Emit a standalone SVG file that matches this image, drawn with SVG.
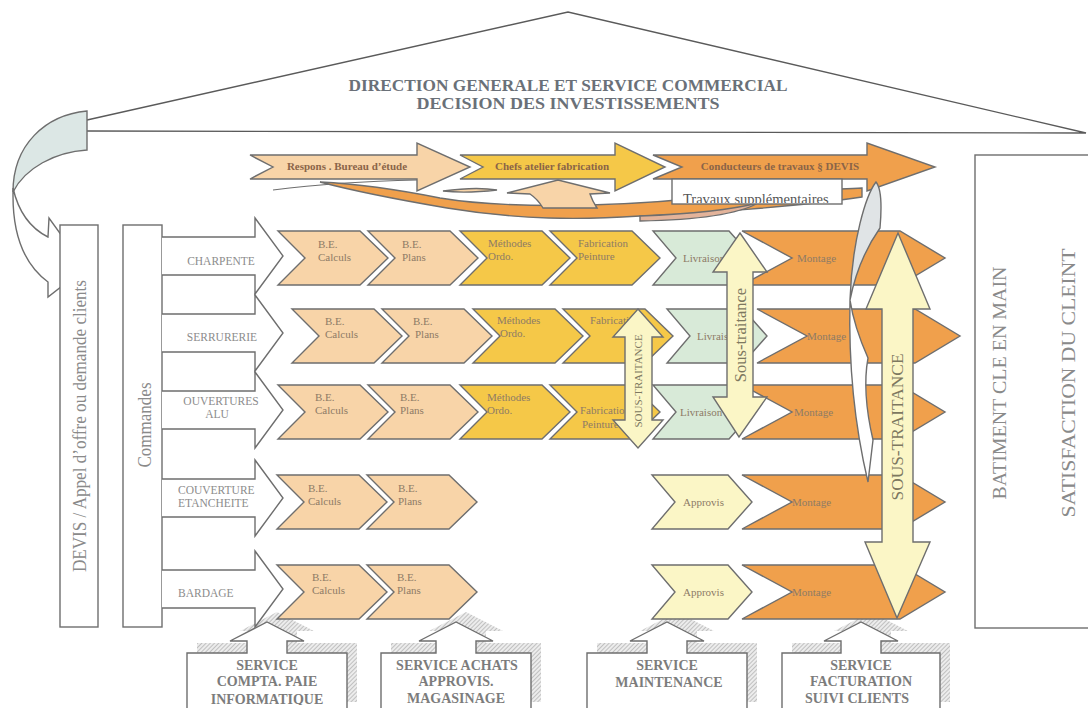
<svg xmlns="http://www.w3.org/2000/svg" width="1088" height="708" viewBox="0 0 1088 708">
<defs>
<pattern id="hatch" width="3" height="3" patternUnits="userSpaceOnUse" patternTransform="rotate(45)">
<rect width="3" height="3" fill="#ececec"/><line x1="0" y1="0" x2="0" y2="3" stroke="#a8a8a8" stroke-width="1.3"/>
</pattern>
<clipPath id="clipTrav"><rect x="672" y="179" width="170" height="24"/></clipPath>
<clipPath id="clipBottom"><rect x="0" y="0" width="1088" height="705"/></clipPath>
<style>
.st{stroke:#6e6e6e;stroke-width:1.4;stroke-linejoin:miter}
.wh{fill:#ffffff}
.peach{fill:#F8D4A8}
.gold{fill:#F5C848}
.green{fill:#D8EAD8}
.cream{fill:#FBF6C6}
.orange{fill:#F0A04C}
.t{font-family:"Liberation Serif","Times New Roman",serif}
.pt{font-size:11px;fill:#8d7b66}
.cat{font-size:11.5px;fill:#8c8c8c}
.svc{font-size:14px;font-weight:bold;fill:#7c7c7c;text-anchor:middle}
.big{font-size:18px;fill:#8a8a8a;text-anchor:middle}
.top{font-size:11px;font-weight:bold;fill:#8a6448;text-anchor:middle}
.sous{fill:#7d7860;text-anchor:middle}
</style>
</defs>
<rect width="1088" height="708" fill="#ffffff"/>

<g id="roof">
<path d="M87,120 L568,12 L1086,133 L87,131" fill="none" stroke="#5a5a5a" stroke-width="1.4"/>
<text class="t" x="568" y="91" font-size="17" font-weight="bold" fill="#6a7078" text-anchor="middle" textLength="439" lengthAdjust="spacingAndGlyphs">DIRECTION GENERALE ET SERVICE COMMERCIAL</text>
<text class="t" x="568" y="109" font-size="17" font-weight="bold" fill="#6a7078" text-anchor="middle" textLength="303" lengthAdjust="spacingAndGlyphs">DECISION DES INVESTISSEMENTS</text>
</g>

<g id="connectors">
<path d="M87,111 L87,150 C55,152 25,168 13,192 C13,145 45,115 87,111 Z" fill="#DCE7E5" class="st"/>
<path d="M13,188 C18,210 30,228 48,237 L49,218 L85,268 L48,297 L48,282 C25,265 13,235 13,196 Z" class="wh st"/>
<path d="M273,190 C320,184 370,181 417,180" fill="none" stroke="#6e6e6e" stroke-width="1.2"/>
<path d="M320,182 C360,184 400,190 440,198 C500,208 600,208 700,198 C760,192 820,190 862,188 L862,197 C800,206 700,214 640,216 C580,220 520,220 447,208 C400,200 350,190 320,182 Z" class="orange st" stroke-width="1"/>
<path d="M443,191 C465,188 485,188 497,190 C480,192 460,193 443,191 Z" class="peach st" stroke-width="1"/>
<path d="M640,216 C690,214 730,210 758,203 C740,213 700,220 640,221 Z" fill="#E3B39A" class="st" stroke-width="1"/>
<path d="M507,193 L558,180 L610,193 L590,194 C592,200 595,205 597,208 L543,208 C540,203 536,198 530,194 Z" class="peach st" stroke-width="1"/>
</g>

<g id="top-arrows">
<path d="M250,155 H417 V143 L470,167 L417,191 V179 H250 L273,167 Z" class="peach st"/>
<text class="t top" x="347" y="170">Respons . Bureau d’étude</text>
<path d="M460,155 H615 V143 L665,167 L615,191 V179 H460 L483,167 Z" class="gold st"/>
<text class="t top" x="552" y="170">Chefs atelier fabrication</text>
<path d="M653,155 H867 V143 L935,167 L867,191 V179 H653 L682,167 Z" class="orange st"/>
<text class="t top" x="780" y="170" fill="#8a4e24">Conducteurs de travaux § DEVIS</text>
</g>

<g id="travaux">
<rect x="672" y="179" width="170" height="25" class="wh st"/>
<text class="t" x="683" y="203.5" font-size="14.5" fill="#555555" clip-path="url(#clipTrav)">Travaux supplémentaires</text>
</g>

<g id="devis">
<rect x="60" y="225" width="38" height="402" class="wh st"/>
<text class="t big" transform="translate(86,426) rotate(-90)" font-size="18" textLength="292" lengthAdjust="spacingAndGlyphs">DEVIS / Appel d’offre ou demande clients</text>
</g>

<g id="commandes">
<rect x="123" y="225" width="39" height="402" class="wh st"/>
<text class="t big" transform="translate(151,425) rotate(-90)" font-size="18" textLength="85" lengthAdjust="spacingAndGlyphs">Commandes</text>
</g>

<g id="services">
<g id="svc-compta">
<path d="M187,712 V653 H247 V641 H230 L267,622 L304,641 H287 V653 H347 V712 Z" fill="url(#hatch)" transform="translate(10,-10)"/>
<path d="M187,712 V653 H247 V641 H230 L267,622 L304,641 H287 V653 H347 V712 Z" class="wh st"/>
<text class="t svc" x="267" y="670">SERVICE</text>
<text class="t svc" x="267" y="686">COMPTA. PAIE</text>
<text class="t svc" x="267" y="704" clip-path="url(#clipBottom)">INFORMATIQUE</text>
</g>
<g id="svc-achats">
<path d="M381,712 V653 H436 V641 H419 L456,622 L493,641 H476 V653 H531 V712 Z" fill="url(#hatch)" transform="translate(10,-10)"/>
<path d="M381,712 V653 H436 V641 H419 L456,622 L493,641 H476 V653 H531 V712 Z" class="wh st"/>
<text class="t svc" x="457" y="670">SERVICE ACHATS</text>
<text class="t svc" x="456" y="686">APPROVIS.</text>
<text class="t svc" x="456" y="703">MAGASINAGE</text>
</g>
<g id="svc-maintenance">
<path d="M587,712 V653 H647 V641 H630 L667,622 L704,641 H687 V653 H747 V712 Z" fill="url(#hatch)" transform="translate(10,-10)"/>
<path d="M587,712 V653 H647 V641 H630 L667,622 L704,641 H687 V653 H747 V712 Z" class="wh st"/>
<text class="t svc" x="667" y="670">SERVICE</text>
<text class="t svc" x="669" y="687">MAINTENANCE</text>
</g>
<g id="svc-facturation">
<path d="M782,712 V653 H841 V641 H824 L861,622 L898,641 H881 V653 H940 V712 Z" fill="url(#hatch)" transform="translate(10,-10)"/>
<path d="M782,712 V653 H841 V641 H824 L861,622 L898,641 H881 V653 H940 V712 Z" class="wh st"/>
<text class="t svc" x="861" y="670">SERVICE</text>
<text class="t svc" x="861" y="686">FACTURATION</text>
<text class="t svc" x="857" y="703">SUIVI CLIENTS</text>
</g>
</g>

<g id="categories">
<g id="cat-charpente"><path d="M162,237 H255 V218 L283,256 L255,294 V275 H162" class="wh st"/>
<text class="t cat" x="221" y="265" text-anchor="middle">CHARPENTE</text></g>
<g id="cat-serrurerie"><path d="M162,314 H255 V295 L283,333 L255,371 V352 H162" class="wh st"/>
<text class="t cat" x="222" y="341" text-anchor="middle">SERRURERIE</text></g>
<g id="cat-ouvertures"><path d="M162,391 H255 V372 L283,410 L255,448 V429 H162" class="wh st"/>
<text class="t cat" x="221" y="405" text-anchor="middle">OUVERTURES</text>
<text class="t cat" x="217" y="418" text-anchor="middle">ALU</text></g>
<g id="cat-couverture"><path d="M162,479 H255 V460 L283,498 L255,536 V517 H162" class="wh st"/>
<text class="t cat" x="178" y="494">COUVERTURE</text>
<text class="t cat" x="178" y="507">ETANCHEITE</text></g>
<g id="cat-bardage"><path d="M162,570 H255 V551 L283,589 L255,627 V608 H162" class="wh st"/>
<text class="t cat" x="178" y="597">BARDAGE</text></g>
</g>

<g id="row1">
<path d="M278,231 H360 L388,258 L360,285 H278 L305,258 Z" class="peach st"/>
<text class="t pt" x="318" y="248">B.E.</text><text class="t pt" x="318" y="261">Calculs</text>
<path d="M368,231 H450 L478,258 L450,285 H368 L395,258 Z" class="peach st"/>
<text class="t pt" x="402" y="248">B.E.</text><text class="t pt" x="402" y="261">Plans</text>
<path d="M460,231 H542 L570,258 L542,285 H460 L487,258 Z" class="gold st"/>
<text class="t pt" x="488" y="247">Méthodes</text><text class="t pt" x="488" y="260">Ordo.</text>
<path d="M550,231 H632 L660,258 L632,285 H550 L577,258 Z" class="gold st"/>
<text class="t pt" x="578" y="247">Fabrication</text><text class="t pt" x="578" y="260">Peinture</text>
<path d="M653,231 H729 L753,258 L729,285 H653 L676,258 Z" class="green st"/>
<text class="t pt" x="683" y="262">Livraison</text>
<path d="M742,231 H900 L945,258 L900,285 H742 L792,258 Z" class="orange st"/>
<text class="t pt" x="797" y="262">Montage</text>
</g>

<g id="row2">
<path d="M292,309 H374 L402,336 L374,363 H292 L319,336 Z" class="peach st"/>
<text class="t pt" x="325" y="325">B.E.</text><text class="t pt" x="325" y="338">Calculs</text>
<path d="M382,309 H464 L492,336 L464,363 H382 L409,336 Z" class="peach st"/>
<text class="t pt" x="413" y="325">B.E.</text><text class="t pt" x="415" y="338">Plans</text>
<path d="M473,309 H555 L583,336 L555,363 H473 L500,336 Z" class="gold st"/>
<text class="t pt" x="497" y="324">Méthodes</text><text class="t pt" x="500" y="337">Ordo.</text>
<path d="M563,309 H645 L673,336 L645,363 H563 L590,336 Z" class="gold st"/>
<text class="t pt" x="590" y="324">Fabrication</text>
<path d="M667,309 H743 L767,336 L743,363 H667 L690,336 Z" class="green st"/>
<text class="t pt" x="697" y="340">Livraison</text>
<path d="M757,309 H915 L960,336 L915,363 H757 L807,336 Z" class="orange st"/>
<text class="t pt" x="807" y="340">Montage</text>
</g>

<g id="row3">
<path d="M278,385 H360 L388,412 L360,439 H278 L305,412 Z" class="peach st"/>
<text class="t pt" x="315" y="401">B.E.</text><text class="t pt" x="315" y="414">Calculs</text>
<path d="M368,385 H450 L478,412 L450,439 H368 L395,412 Z" class="peach st"/>
<text class="t pt" x="400" y="401">B.E.</text><text class="t pt" x="400" y="414">Plans</text>
<path d="M460,385 H542 L570,412 L542,439 H460 L487,412 Z" class="gold st"/>
<text class="t pt" x="487" y="401">Méthodes</text><text class="t pt" x="487" y="414">Ordo.</text>
<path d="M550,385 H632 L660,412 L632,439 H550 L577,412 Z" class="gold st"/>
<text class="t pt" x="580" y="414">Fabrication</text><text class="t pt" x="582" y="428">Peinture</text>
<path d="M653,385 H729 L753,412 L729,439 H653 L676,412 Z" class="green st"/>
<text class="t pt" x="680" y="416">Livraison</text>
<path d="M742,385 H900 L945,412 L900,439 H742 L792,412 Z" class="orange st"/>
<text class="t pt" x="794" y="416">Montage</text>
</g>

<g id="row4">
<path d="M277,475 H359 L387,502 L359,529 H277 L304,502 Z" class="peach st"/>
<text class="t pt" x="308" y="492">B.E.</text><text class="t pt" x="308" y="505">Calculs</text>
<path d="M367,475 H449 L477,502 L449,529 H367 L394,502 Z" class="peach st"/>
<text class="t pt" x="398" y="492">B.E.</text><text class="t pt" x="398" y="505">Plans</text>
<path d="M652,475 H728 L752,502 L728,529 H652 L675,502 Z" class="cream st"/>
<text class="t pt" x="683" y="506">Approvis</text>
<path d="M742,475 H900 L945,502 L900,529 H742 L792,502 Z" class="orange st"/>
<text class="t pt" x="792" y="506">Montage</text>
</g>

<g id="row5">
<path d="M277,565 H359 L387,592 L359,619 H277 L304,592 Z" class="peach st"/>
<text class="t pt" x="312" y="581">B.E.</text><text class="t pt" x="312" y="594">Calculs</text>
<path d="M367,565 H449 L477,592 L449,619 H367 L394,592 Z" class="peach st"/>
<text class="t pt" x="397" y="581">B.E.</text><text class="t pt" x="397" y="594">Plans</text>
<path d="M652,565 H728 L752,592 L728,619 H652 L675,592 Z" class="cream st"/>
<text class="t pt" x="683" y="596">Approvis</text>
<path d="M742,565 H900 L945,592 L900,619 H742 L792,592 Z" class="orange st"/>
<text class="t pt" x="792" y="596">Montage</text>
</g>

<g id="sous-traitance-small">
<path d="M638,309 L663,337 L652,337 L652,420 L663,420 L638,448 L613,420 L625,420 L625,337 L613,337 Z" class="cream st"/>
<text class="t sous" transform="translate(642,381) rotate(-90)" font-size="11">SOUS-TRAITANCE</text>
</g>

<g id="sous-traitance-medium">
<path d="M740,233 L767,272 L753,272 L753,397 L767,397 L739,437 L713,397 L727,397 L727,272 L713,272 Z" class="cream st"/>
<text class="t sous" transform="translate(746,335) rotate(-90)" font-size="16.5">Sous-traitance</text>
</g>

<g id="lens">
<path d="M876,182 C866,195 852,240 850,300 C856,270 868,245 880,228 C882,205 881,188 876,182 Z" fill="#E0E4E6" class="st" stroke-width="1"/>
<path d="M850,300 C848,380 858,440 868,482 L873,440 C866,410 864,380 868,358 C860,340 853,320 850,300 Z" class="wh st" stroke-width="1"/>
</g>

<g id="sous-traitance-big">
<path d="M898,233 L930,309 L913,309 L913,542 L930,542 L897,618 L865,542 L882,542 L882,309 L866,309 Z" class="cream st"/>
<text class="t sous" transform="translate(903,427) rotate(-90)" font-size="17" textLength="147" lengthAdjust="spacingAndGlyphs">SOUS-TRAITANCE</text>
</g>

<g id="batiment">
<rect x="975" y="155" width="130" height="473" class="wh st"/>
<text class="t big" transform="translate(1006,383) rotate(-90)" font-size="20" textLength="233" lengthAdjust="spacingAndGlyphs">BATIMENT  CLE EN MAIN</text>
<text class="t big" transform="translate(1075,383) rotate(-90)" font-size="20" textLength="269" lengthAdjust="spacingAndGlyphs">SATISFACTION DU CLEINT</text>
</g>
</svg>
